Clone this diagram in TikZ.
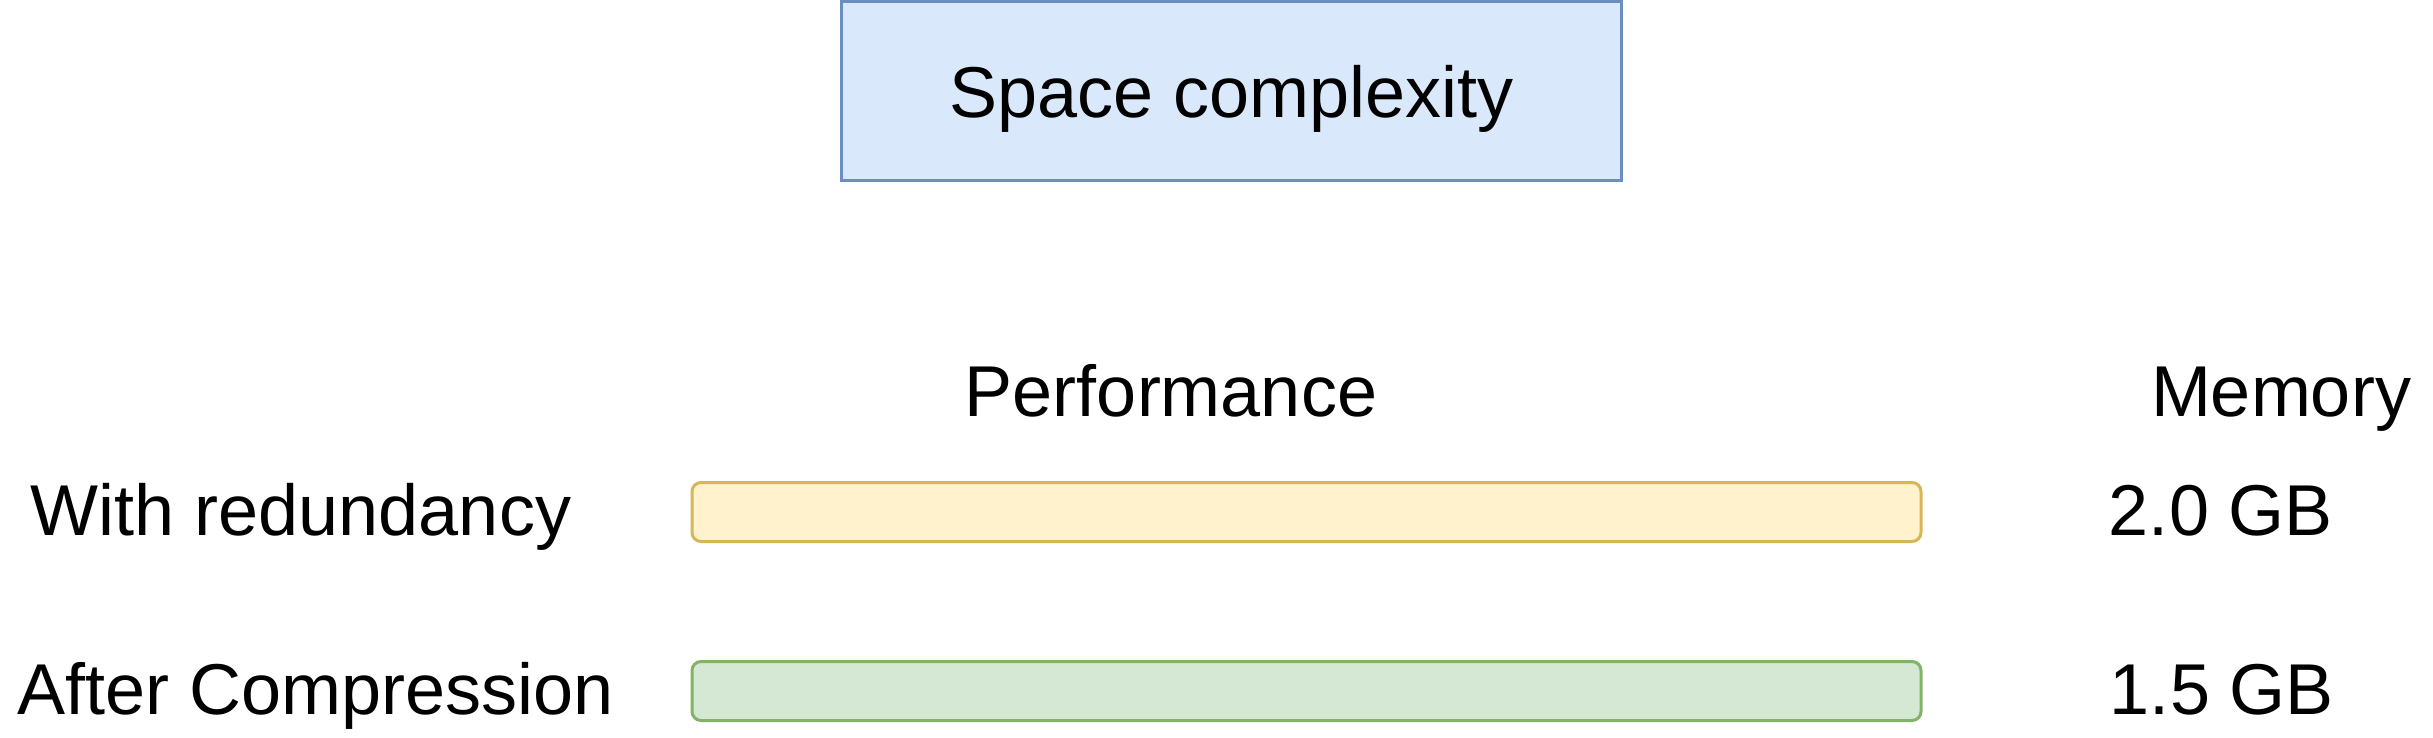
\documentclass[tikz,border=0pt]{standalone}
\usepackage{fontspec}
\setmainfont{Liberation Sans}
\usetikzlibrary{positioning}

\definecolor{blueFill}{HTML}{DAE8FC}
\definecolor{blueLine}{HTML}{6C8EBF}
\definecolor{yellowFill}{HTML}{FFF2CC}
\definecolor{yellowLine}{HTML}{D6B656}
\definecolor{greenFill}{HTML}{D5E8D4}
\definecolor{greenLine}{HTML}{82B366}

\begin{document}
\begin{tikzpicture}[x=0.5pt,
					y=-0.5pt,
					%font size of the drawing
					every node/.style={font=\fontsize{36}{43}\selectfont},
					title node/.style={draw=blueLine,fill=blueFill,line width=1.5pt,
						minimum width=390pt,minimum height=89.5pt,
						text height=25.8pt,text depth=0pt},
					bar node/.style={rounded corners=4.5pt,line width=1.5pt,
						minimum width=614.5pt,minimum height=29.5pt},
					label node/.style={anchor=base,inner sep=0pt}]

  \useasboundingbox (0,0) rectangle (2433,738);

  \node[title node] (title) at (1231.5,91.5) {Space complexity};

  \node[label node] (perf) at (1171,416) {Performance};
  \node[label node] (mem) at (2281,416) {Memory};

  \node[bar node,draw=yellowLine,fill=yellowFill] (bar1) at (1306.5,512) {};
  \node[bar node,draw=greenLine,fill=greenFill] (bar2) at (1306.5,691) {};

  \node[label node] (redund) at (301,535) {With redundancy};
  \node[label node] (compr) at (316,714) {After Compression};

  \node[label node] (mem1) at (2221,535) {2.0 GB};
  \node[label node] (mem2) at (2222,714) {1.5 GB};
\end{tikzpicture}
\end{document}
